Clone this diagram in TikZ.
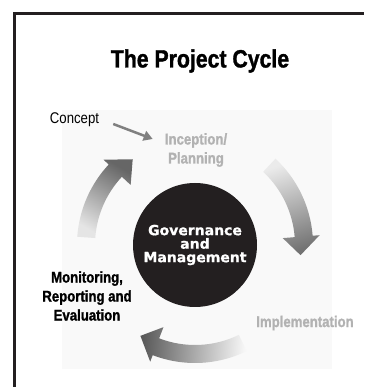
\documentclass[tikz,border=0pt]{standalone}
\usepackage{fontspec}
\setmainfont{Liberation Sans}
\newfontfamily\narrowsans[FakeStretch=0.85]{Liberation Sans}
\newfontfamily\narrowbold[FakeStretch=0.85,FakeBold=1.3]{Liberation Sans Bold}
\newfontfamily\widebold[FakeBold=0.8]{DejaVu Sans Bold}
\usetikzlibrary{arrows.meta}
\definecolor{framegray}{RGB}{35,31,32}
\definecolor{stagegray}{RGB}{178,178,178}
\definecolor{paleback}{RGB}{249,249,249}

\begin{document}
\begin{tikzpicture}[x=1pt,y=1pt,
  stage/.style={font=\narrowbold\fontsize{15.5}{19}\selectfont, align=center, inner sep=0pt},
  hub/.style={circle, fill=framegray, text=white, minimum size=124pt, inner sep=0pt, align=center,
    font=\widebold\fontsize{14}{13.5}\selectfont}]
  \useasboundingbox (0,0) rectangle (364,387);

  % frame and pale panel
  \fill[paleback] (62,18) rectangle (332,277);
  \draw[framegray, line width=3pt] (14.5,0) -- (14.5,373.5) -- (364,373.5);

  % title
  \node[font=\narrowbold\fontsize{25}{30}\selectfont, inner sep=0pt] (title) at (200,326) {The Project Cycle};

  % centre and stages
  \node[hub] (hub) at (195,142) {Governance\\and\\Management};
  \node[stage, text=stagegray] (inception) at (196,237) {Inception/\\Planning};
  \node[stage, text=stagegray] (implementation) at (305,64) {Implementation};
  \node[stage] (monitoring) at (87,91) {Monitoring,\\Reporting and\\Evaluation};
  \node[font=\narrowsans\fontsize{15.5}{19}\selectfont, inner sep=0pt] (concept) at (74.5,267) {Concept};

  % concept feeds in
  \draw[black!50, line width=2.5pt, -{Triangle[length=9pt,width=10pt]}]
    ([xshift=14pt,yshift=-4pt]concept.east) -- ([xshift=-12pt,yshift=11pt]inception.west);

  % cycle arrows: tail/base/tip angle, shading angle, light/dark
  \foreach \tail/\base/\tip/\ang/\light/\dark in {176/137/126/-31/10/60, 47/4.5/-5.5/-161/8/55, -64/-111/-121/86.5/3/65}
    \shade[shift={(hub.center)}, top color=black!\dark, bottom color=black!\light, shading angle=\ang]
      (\tail:118) arc[start angle=\tail, end angle=\base, radius=118] -- (\base:125) -- (\tip:106)
      -- (\base:88) -- (\base:100) arc[start angle=\base, end angle=\tail, radius=100] -- cycle;
\end{tikzpicture}
\end{document}
